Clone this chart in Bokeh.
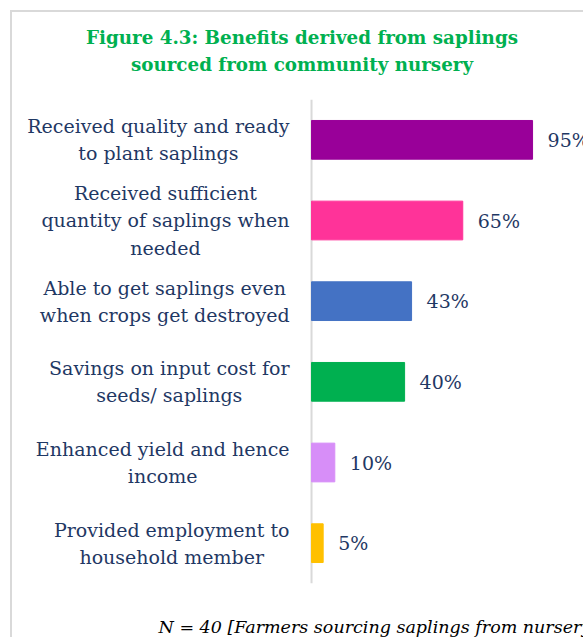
from bokeh.plotting import figure
from bokeh.models import ColumnDataSource, Range1d, FactorRange, Title, Span
from bokeh.core.properties import value
from bokeh.embed import file_html
from bokeh.resources import INLINE

categories = [
    "Received quality and ready\nto plant saplings",
    "Received sufficient\nquantity of saplings when\nneeded",
    "Able to get saplings even\nwhen crops get destroyed",
    "Savings on input cost for\nseeds/ saplings",
    "Enhanced yield and hence\nincome",
    "Provided employment to\nhousehold member",
]
values = [95, 65, 43, 40, 10, 5]
value_labels = ["95%", "65%", "43%", "40%", "10%", "5%"]
colors = ["#990099", "#FF3399", "#4472C4", "#00B050", "#D78EF8", "#FFC000"]

title_lines = ["Figure 4.3: Benefits derived from saplings",
               "sourced from community nursery"]
footnote = "N = 40 [Farmers sourcing saplings from nursery]"

FONT = "DejaVu Serif"
TEXT_COLOR = "#1F3864"

source = ColumnDataSource(dict(cats=categories, vals=values, labs=value_labels, cols=colors))

p = figure(width=583, height=637,
           y_range=FactorRange(*reversed(categories)),
           x_range=Range1d(-125.1, 116.9),
           toolbar_location=None, output_backend="svg",
           min_border_left=20, min_border_right=0,
           min_border_top=99, min_border_bottom=54)

# category axis line
p.add_layout(Span(location=0, dimension="height", line_color="#D9D9D9",
                  line_width=2, level="underlay"))

p.hbar(y="cats", right="vals", left=0, height=0.48, color="cols", source=source)

# value labels
p.text(x="vals", y="cats", text="labs", source=source, x_offset=15,
       text_baseline="middle", text_align="left",
       text_font=value(FONT), text_font_size="19px", text_color=TEXT_COLOR)

# category labels (centered lines, block right-aligned next to the axis)
p.text(x=0, y="cats", text="cats", source=source, x_offset=-22,
       anchor="center_right", text_align="center", text_baseline="middle",
       text_line_height=1.24,
       text_font=value(FONT), text_font_size="19px", text_color=TEXT_COLOR)

p.xaxis.visible = False
p.yaxis.visible = False
p.grid.visible = False
p.outline_line_color = None
p.border_fill_color = None
p.background_fill_color = None

title_style = dict(align="center", vertical_align="bottom", text_font=FONT,
                   text_font_style="bold", text_font_size="18.3px", text_color="#00B050")
# first added sits nearest the frame
p.add_layout(Title(text=title_lines[1] + "\n", standoff=0, text_line_height=1.19,
                   **title_style), "above")
p.add_layout(Title(text=title_lines[0], standoff=8, **title_style), "above")

foot = Title(text="\n" + footnote, align="left", offset=138, standoff=0,
             vertical_align="bottom", text_font=FONT, text_font_style="italic",
             text_font_size="17.5px", text_line_height=1.35, text_color="#000000")
try:
    foot.standoff = -12
    foot.text_line_height = 1.85
except ValueError:
    foot.standoff = 0
    foot.text_line_height = 1.45
p.add_layout(foot, "below")

p.styles = {
    "background": "linear-gradient(#D9D9D9,#D9D9D9) 10px 10px / 573px 2px no-repeat, "
                  "linear-gradient(#D9D9D9,#D9D9D9) 10px 10px / 2px 627px no-repeat, #FFFFFF"
}

open("out.html", "w").write(file_html(p, INLINE))
